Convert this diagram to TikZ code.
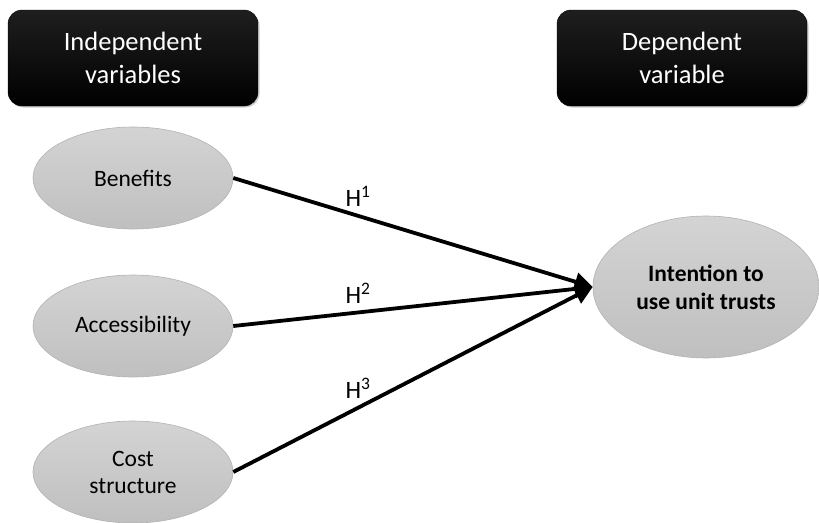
\documentclass[tikz,border=0pt]{standalone}
\usepackage{fontspec}
\setmainfont{Carlito}
\usetikzlibrary{arrows.meta,shapes.geometric,shadows}
\begin{document}
\begin{tikzpicture}[x=1pt,y=-1pt,
  hdrbox/.style={rounded corners=14pt, top color=black!88, bottom color=black, draw=black,
     minimum width=250pt, minimum height=96pt, text=white, align=center,
     font=\fontsize{26.5}{33}\selectfont, drop shadow={shadow xshift=1.5pt,shadow yshift=-1.5pt,opacity=0.4}},
  varell/.style={ellipse, top color=black!17, bottom color=black!25, draw=black!30, line width=0.6pt,
     minimum width=200pt, minimum height=102pt, align=center, inner sep=0pt,
     font=\fontsize{23.5}{27}\selectfont},
  link/.style={line width=3.8pt, -{Triangle[length=18pt,width=18pt]}},
  hlab/.style={font=\fontsize{25}{30}\selectfont}
]
\useasboundingbox (0,0) rectangle (819,522);
\node[hdrbox] (ind) at (133,58) {Independent\\variables};
\node[hdrbox] (dep) at (682,58) {Dependent\\variable};
\node[varell] (ben) at (133,178) {Benefits};
\node[varell] (acc) at (133,326) {Accessibility};
\node[varell] (cost) at (133,472) {Cost\\structure};
\node[varell, minimum width=226pt, minimum height=142pt, font={\fontsize{23.5}{28}\selectfont\bfseries}] (int) at (706,287) {Intention to\\use unit trusts};
\draw[link] (ben.east) -- (int.west);
\draw[link] (acc.east) -- (int.west);
\draw[link] (cost.east) -- (int.west);
\node[hlab] (h1) at (358,196) {H\textsuperscript{1}};
\node[hlab] (h2) at (358,293) {H\textsuperscript{2}};
\node[hlab] (h3) at (358,388) {H\textsuperscript{3}};
\end{tikzpicture}
\end{document}
